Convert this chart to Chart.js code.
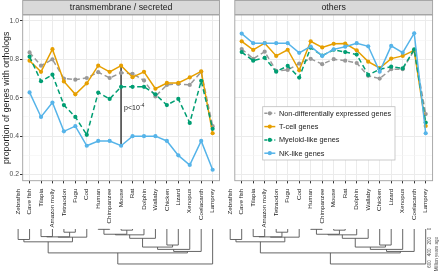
<!DOCTYPE html>
<html><head><meta charset="utf-8">
<script src="https://cdn.jsdelivr.net/npm/chart.js@4.4.0/dist/chart.umd.min.js"></script>
<style>
html,body{margin:0;padding:0;background:#fff;}
#wrap{position:relative;width:440px;height:272px;overflow:hidden;background:#fff;}
canvas{position:absolute;left:0;top:0;}
</style></head><body>
<div id="wrap"><canvas id="cL" width="440" height="272"></canvas><canvas id="cR" width="440" height="272"></canvas></div>
<script>
// ---------- DATA ----------
const categories = ["Cave fish","Tilapia","Amazon molly","Tetraodon","Fugu","Cod","Human","Chimpanzee","Mouse","Rat","Dolphin","Wallaby","Chicken","Lizard","Xenopus","Coelacanth","Lamprey"];
const treeLeaves = ["Zebrafish","Cave fish","Tilapia","Amazon molly","Tetraodon","Fugu","Cod","Human","Chimpanzee","Mouse","Rat","Dolphin","Wallaby","Chicken","Lizard","Xenopus","Coelacanth","Lamprey"];
const seriesNames = ["Non-differentially expressed genes","T-cell genes","Myeloid-like genes","NK-like genes"];
const panelTitles = ["transmembrane / secreted","others"];

// transmembrane / secreted
const tmNonDE   = [0.836,0.767,0.800,0.700,0.694,0.703,0.733,0.703,0.730,0.725,0.690,0.607,0.667,0.672,0.667,0.735,0.452];
const tmTcell   = [0.793,0.735,0.853,0.685,0.618,0.675,0.767,0.735,0.767,0.707,0.735,0.647,0.677,0.677,0.706,0.737,0.415];
const tmMyeloid = [0.814,0.686,0.720,0.562,0.500,0.407,0.627,0.594,0.657,0.657,0.657,0.618,0.562,0.594,0.469,0.688,0.438];
const tmNK      = [0.628,0.500,0.575,0.425,0.452,0.350,0.375,0.375,0.350,0.400,0.400,0.400,0.375,0.300,0.250,0.375,0.225];
// others
const oNonDE    = [0.854,0.803,0.840,0.740,0.745,0.778,0.803,0.775,0.801,0.793,0.781,0.714,0.700,0.749,0.749,0.847,0.515];
const oTcell    = [0.894,0.849,0.884,0.818,0.850,0.743,0.894,0.862,0.881,0.882,0.847,0.788,0.755,0.804,0.818,0.847,0.453];
const oMyeloid  = [0.838,0.793,0.808,0.736,0.766,0.705,0.861,0.820,0.850,0.838,0.825,0.719,0.748,0.762,0.753,0.852,0.471];
const oNK       = [0.934,0.884,0.884,0.884,0.884,0.834,0.867,0.818,0.852,0.866,0.884,0.868,0.736,0.870,0.835,0.936,0.415];

const yTickLabels = [0.2,0.4,0.6,0.8,1.0];
const pCategory = "Mouse";
const pLabel = "p<10";
const pExponent = "-4";
const timeTicks = [0,200,400,600];
const timeTitle = "Million years ago";
// species tree: [childA, childB, divergence time (Mya)], leaves = index in treeLeaves
const fishTree = [[0,1,180],[[[2,3,130],[4,5,55],135],6,140],220];
const mammalTree = [[[[7,8,6],[9,10,20],90],11,100],12,160];
const tetrapodTree = [[[mammalTree,[13,14,275],310],15,350],16,385];
const TREE = [[fishTree,tetrapodTree,410],17,600];

// ---------- STYLE / HELPERS ----------
const FONT = '"Liberation Sans", Arial, sans-serif';
const COLORS = ['#999999','#E69F00','#009E73','#56B4E9'];
const DASHES = [[5,3],[],[5,3],[]];
const ORDERS = [4,3,2,1];
const isMajor = v => Math.abs(v*5 - Math.round(v*5)) < 1e-6;

function makeDatasets(arrs){
  return arrs.map((vals,s)=>({
    label: seriesNames[s],
    data: vals.map((v,i)=>({x:i,y:v})),
    borderColor: COLORS[s], backgroundColor: COLORS[s],
    borderWidth: 1.5, borderDash: DASHES[s],
    pointRadius: 2.1, pointHoverRadius: 2.1, pointBorderWidth: 0,
    tension: 0, fill: false, order: ORDERS[s]
  }));
}

function scalesCfg(isLeft){
  return {
    x: { type:'linear', min:-0.6, max:categories.length-1+0.6, position:'bottom',
      ticks:{display:false, stepSize:1, includeBounds:false, autoSkip:false},
      grid:{color:'#ebebeb', lineWidth:1, drawTicks:true, tickLength:2.7, tickColor:'#333333', tickWidth:1},
      border:{display:false},
      afterFit(s){ s.height = 2.7; } },
    y: { type:'linear', min:0.168, max:1.031, position:'left',
      ticks:{display:isLeft, stepSize:0.1, includeBounds:false, padding:1, color:'#4d4d4d',
        font:{family:FONT,size:6.8},
        callback:(v)=>{ const m = yTickLabels.find(t=>Math.abs(t-v)<1e-6); return m===undefined ? '' : m.toFixed(1); } },
      grid:{
        color:(c)=> (c.tick && !isMajor(c.tick.value)) ? '#f3f3f3' : '#ebebeb',
        lineWidth:(c)=> (c.tick && !isMajor(c.tick.value)) ? 0.6 : 1,
        drawTicks:isLeft, tickLength:2.7,
        tickColor:(c)=> (c.tick && !isMajor(c.tick.value)) ? 'rgba(0,0,0,0)' : '#333333', tickWidth:1 },
      border:{display:false},
      title:{display:isLeft, text:'proportion of genes with orthologs', color:'#1a1a1a',
        font:{family:FONT,size:8.8}, padding:{top:1,bottom:0}},
      afterFit(s){ s.width = isLeft ? 22.7 : 0; } }
  };
}

function drawTree(ctx, node, xOf, yOf){
  if (typeof node === 'number') return {x:xOf(node), y:yOf(0)};
  const A = drawTree(ctx, node[0], xOf, yOf), B = drawTree(ctx, node[1], xOf, yOf);
  const y = yOf(node[2]);
  ctx.beginPath();
  ctx.moveTo(A.x, A.y); ctx.lineTo(A.x, y); ctx.lineTo(B.x, y); ctx.lineTo(B.x, B.y);
  ctx.stroke();
  return {x:(A.x+B.x)/2, y};
}

function decoPlugin(panelIdx){
  const isRight = panelIdx === 1;
  return {
    id:'deco'+panelIdx,
    afterDraw(chart){
      const {ctx, chartArea:a, scales} = chart;
      const xs = scales.x, ys = scales.y;
      ctx.save();
      // panel border
      ctx.strokeStyle = '#a0a0a0'; ctx.lineWidth = 0.9; ctx.setLineDash([]);
      ctx.strokeRect(a.left, a.top, a.right-a.left, a.bottom-a.top);
      // strip
      ctx.fillStyle = '#d9d9d9';
      ctx.fillRect(a.left, 0.5, a.right-a.left, a.top-1);
      ctx.strokeRect(a.left, 0.5, a.right-a.left, a.top-1);
      ctx.fillStyle = '#1a1a1a';
      ctx.font = '8.8px ' + FONT; ctx.textAlign = 'center'; ctx.textBaseline = 'middle';
      ctx.fillText(panelTitles[panelIdx], (a.left+a.right)/2, a.top/2 + 0.3);

      // species labels (tree leaves)
      ctx.font = '6.2px ' + FONT; ctx.fillStyle = '#1a1a1a';
      treeLeaves.forEach((name,i)=>{
        const x = xs.getPixelForValue(i-1);
        ctx.save(); ctx.translate(x, a.bottom + 8); ctx.rotate(-Math.PI/2);
        ctx.textAlign = 'right'; ctx.textBaseline = 'middle';
        ctx.fillText(name, 0, 0); ctx.restore();
      });
      // tree
      const yOf = t => a.bottom + 48.3 + t*0.0583;
      const xOf = i => xs.getPixelForValue(i-1);
      ctx.strokeStyle = '#555555'; ctx.lineWidth = 0.9;
      drawTree(ctx, TREE, xOf, yOf);

      if (!isRight){
        // p-value annotation
        const xp = xs.getPixelForValue(categories.indexOf(pCategory));
        const yp = ys.getPixelForValue(0.544);
        ctx.fillStyle = '#1a1a1a'; ctx.textAlign = 'left'; ctx.textBaseline = 'middle';
        ctx.font = '7px ' + FONT;
        ctx.fillText(pLabel, xp + 3, yp);
        const w = ctx.measureText(pLabel).width;
        ctx.font = '4.6px ' + FONT;
        ctx.fillText(pExponent, xp + 3 + w + 0.3, yp - 2.6);
      } else {
        // legend
        const L = 262.7, T = 106.7, R = 395, B = 160;
        ctx.fillStyle = '#ffffff'; ctx.fillRect(L, T, R-L, B-T);
        ctx.strokeStyle = '#bdbdbd'; ctx.lineWidth = 0.8; ctx.strokeRect(L, T, R-L, B-T);
        chart.data.datasets.filter(d=>seriesNames.includes(d.label)).forEach((d)=>{
          const i = seriesNames.indexOf(d.label);
          const cy = T + 6.6 + i*13.3;
          ctx.strokeStyle = d.borderColor; ctx.lineWidth = 1.5; ctx.setLineDash(d.borderDash.length ? [3,2] : []);
          ctx.beginPath(); ctx.moveTo(264.3, cy); ctx.lineTo(275.3, cy); ctx.stroke();
          ctx.setLineDash([]);
          ctx.fillStyle = d.borderColor; ctx.beginPath(); ctx.arc(269.8, cy, 2.1, 0, Math.PI*2); ctx.fill();
          ctx.fillStyle = '#1a1a1a'; ctx.font = '7.3px ' + FONT; ctx.textAlign = 'left'; ctx.textBaseline = 'middle';
          ctx.fillText(d.label, 279, cy + 0.3);
        });
        // time axis of tree
        ctx.fillStyle = '#4d4d4d'; ctx.font = '4.6px ' + FONT;
        timeTicks.forEach(t=>{
          ctx.save(); ctx.translate(430.2, yOf(t)); ctx.rotate(-Math.PI/2);
          ctx.textAlign = 'center'; ctx.textBaseline = 'middle'; ctx.fillText(String(t), 0, 0); ctx.restore();
        });
        ctx.save(); ctx.translate(436.5, 254); ctx.rotate(-Math.PI/2);
        ctx.textAlign = 'center'; ctx.textBaseline = 'middle'; ctx.fillText(timeTitle, 0, 0); ctx.restore();
      }
      ctx.restore();
    }
  };
}

const common = {
  responsive:false, animation:false, events:[],
  plugins:{legend:{display:false}, tooltip:{enabled:false}, title:{display:false}}
};

// left panel
const pIdx = categories.indexOf(pCategory);
const leftSets = makeDatasets([tmNonDE, tmTcell, tmMyeloid, tmNK]);
leftSets.push({label:'p-line', data:[{x:pIdx,y:tmTcell[pIdx]},{x:pIdx,y:tmNK[pIdx]}],
  borderColor:'#555555', borderWidth:1, pointRadius:0, order:5, fill:false});
new Chart(document.getElementById('cL'), {
  type:'line',
  data:{datasets:leftSets},
  options:Object.assign({}, common, {
    layout:{padding:{left:0, top:15, right:440-219.5, bottom:272-180.7-2.7}},
    scales:scalesCfg(true)
  }),
  plugins:[decoPlugin(0)]
});

// right panel
new Chart(document.getElementById('cR'), {
  type:'line',
  data:{datasets:makeDatasets([oNonDE, oTcell, oMyeloid, oNK])},
  options:Object.assign({}, common, {
    layout:{padding:{left:234.8, top:15, right:440-432.6, bottom:272-180.7-2.7}},
    scales:scalesCfg(false)
  }),
  plugins:[decoPlugin(1)]
});
</script>
</body></html>
